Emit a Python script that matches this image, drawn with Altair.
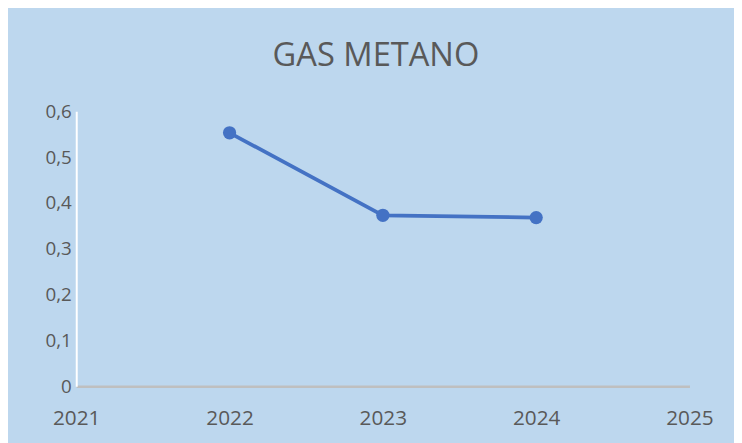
import altair as alt
import pandas as pd

years = [2022, 2023, 2024]
values = [0.553, 0.373, 0.368]
x_ticks = [2021, 2022, 2023, 2024, 2025]
y_ticks = [0, 0.1, 0.2, 0.3, 0.4, 0.5, 0.6]

df = pd.DataFrame({"anno": years, "valore": values})

FONT = "Open Sans"
GREY = "#595959"

base = alt.Chart(df).encode(
    x=alt.X("anno:Q", scale=alt.Scale(domain=[2021, 2025], nice=False, zero=False),
            axis=alt.Axis(values=x_ticks, format="d", title=None, grid=False,
                          ticks=False, labelPadding=22, labelFontSize=21,
                          labelFlush=False, labelColor=GREY, labelFont=FONT,
                          domainColor="#BFBFBF", domainWidth=2.5)),
    y=alt.Y("valore:Q", scale=alt.Scale(domain=[0, 0.6], nice=False),
            axis=alt.Axis(values=y_ticks, title=None, grid=False, ticks=False,
                          labelExpr="replace(format(datum.value, '.1~f'), '.', ',')",
                          labelFlush=False, labelPadding=5, labelFontSize=19,
                          labelColor=GREY, labelFont=FONT,
                          domainColor="white", domainWidth=2)),
)

line = base.mark_line(color="#4472C4", strokeWidth=3.8)
pts = base.mark_point(filled=True, color="#4472C4", size=180, opacity=1)

chart = (line + pts).properties(
    width=620, height=278,
    autosize=alt.AutoSizeParams(type="none"),
    padding={"left": 69, "top": 102, "right": 45, "bottom": 55},
    background="#BDD7EE",
    title=alt.TitleParams("GAS METANO", fontSize=33, font=FONT, color=GREY,
                          fontWeight="normal", anchor="middle", baseline="alphabetic",
                          offset=4, dx=-7),
).configure_view(stroke=None)

chart.save("out.html", embed_options={"renderer": "svg", "actions": False})
